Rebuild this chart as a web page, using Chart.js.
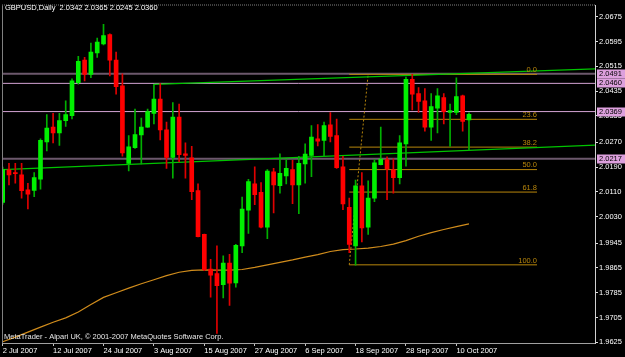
<!DOCTYPE html>
<html><head><meta charset="utf-8">
<script src="https://cdn.jsdelivr.net/npm/chart.js@4.4.1/dist/chart.umd.min.js"></script>
<style>html,body{margin:0;padding:0;background:#000;overflow:hidden}#wrap{width:625px;height:357px;position:relative}</style>
</head><body><div id="wrap"><canvas id="c" width="625" height="357"></canvas></div>
<script>
// ---- text ----
const chartTitle = "GBPUSD,Daily  2.0342 2.0365 2.0245 2.0360";
const watermark = "MetaTrader - Alpari UK, \u00A9 2001-2007 MetaQuotes Software Corp.";

// ---- x axis (bar index) ----
const dateTickIndex = [0, 8, 16, 24, 32, 40, 48, 56, 64, 72];
const dateLabels = ["2 Jul 2007","12 Jul 2007","24 Jul 2007","3 Aug 2007","15 Aug 2007","27 Aug 2007","6 Sep 2007","18 Sep 2007","28 Sep 2007","10 Oct 2007"];
const xDomain = [-0.11, 94.0];

// ---- y axis ----
const priceTicks = [2.0675, 2.0595, 2.0515, 2.0435, 2.0355, 2.0270, 2.0190, 2.0110, 2.0030, 1.9945, 1.9865, 1.9785, 1.9705, 1.9625];
const priceDomain = [1.9623, 2.0711];

// ---- daily OHLC, 2 Jul 2007 .. 12 Oct 2007 ----
const opens  = [2.0076,2.0181,2.0170,2.0165,2.0117,2.0115,2.0151,2.0271,2.0319,2.0300,2.0340,2.0356,2.0462,2.0535,2.0489,2.0558,2.0587,2.0617,2.0535,2.0452,2.0202,2.0253,2.0294,2.0319,2.0363,2.0409,2.0310,2.0221,2.0351,2.0233,2.0220,2.0114,1.9973,1.9861,1.9847,1.9811,1.9881,1.9817,1.9936,2.0051,2.0136,2.0109,1.9996,2.0175,2.0130,2.0162,2.0182,2.0133,2.0200,2.0228,2.0281,2.0276,2.0326,2.0292,2.0191,2.0060,1.9936,2.0130,1.9996,2.0090,2.0198,2.0214,2.0181,2.0156,2.0265,2.0473,2.0427,2.0404,2.0319,2.0380,2.0414,2.0366,2.0366,2.0420,2.0342];
const highs  = [2.0190,2.0202,2.0202,2.0202,2.0138,2.0172,2.0281,2.0359,2.0363,2.0363,2.0404,2.0475,2.0547,2.0544,2.0590,2.0606,2.0650,2.0620,2.0561,2.0491,2.0292,2.0377,2.0348,2.0377,2.0457,2.0459,2.0335,2.0398,2.0393,2.0268,2.0257,2.0136,1.9974,1.9893,1.9936,1.9904,1.9909,1.9941,2.0093,2.0151,2.0191,2.0140,2.0182,2.0186,2.0233,2.0214,2.0212,2.0225,2.0265,2.0324,2.0327,2.0335,2.0366,2.0345,2.0225,2.0090,2.0148,2.0172,2.0146,2.0214,2.0319,2.0223,2.0217,2.0292,2.0480,2.0489,2.0446,2.0443,2.0427,2.0443,2.0427,2.0393,2.0478,2.0422,2.0365];
const lows   = [2.0070,2.0133,2.0138,2.0090,2.0055,2.0095,2.0119,2.0242,2.0268,2.0260,2.0321,2.0345,2.0457,2.0468,2.0478,2.0544,2.0584,2.0484,2.0425,2.0225,2.0178,2.0250,2.0200,2.0318,2.0329,2.0278,2.0186,2.0154,2.0207,2.0154,2.0085,1.9965,1.9856,1.9771,1.9654,1.9768,1.9744,1.9803,1.9914,1.9976,2.0069,1.9994,1.9959,2.0042,2.0106,2.0136,2.0072,2.0040,2.0138,2.0159,2.0258,2.0225,2.0271,2.0186,2.0053,1.9914,1.9874,1.9949,1.9973,2.0079,2.0197,2.0085,2.0106,2.0136,2.0193,2.0374,2.0366,2.0306,2.0276,2.0300,2.0329,2.0257,2.0359,2.0306,2.0245];
const closes = [2.0182,2.0165,2.0169,2.0114,2.0103,2.0156,2.0276,2.0316,2.0300,2.0340,2.0359,2.0468,2.0531,2.0489,2.0561,2.0593,2.0614,2.0535,2.0449,2.0236,2.0255,2.0295,2.0319,2.0369,2.0409,2.0310,2.0221,2.0351,2.0230,2.0228,2.0111,1.9966,1.9859,1.9842,1.9808,1.9881,1.9816,1.9938,2.0055,2.0143,2.0101,1.9996,2.0177,2.0133,2.0170,2.0186,2.0133,2.0202,2.0232,2.0287,2.0274,2.0324,2.0289,2.0188,2.0071,1.9941,2.0130,1.9994,2.0090,2.0204,2.0216,2.0184,2.0156,2.0268,2.0473,2.0425,2.0402,2.0319,2.0385,2.0420,2.0369,2.0372,2.0417,2.0337,2.0360];

// ---- moving average (read every 2nd bar) ----
const maIndex  = [0,2,4,6,8,10,12,14,16,18,20,22,24,26,28,30,32,34,36,38,40,42,44,46,48,50,52,54,56,58,60,62,64,66,68,70,72,74];
const maValues = [1.9627,1.9642,1.9658,1.9674,1.9690,1.9704,1.9723,1.9747,1.9770,1.9785,1.9800,1.9814,1.9827,1.9840,1.9851,1.9857,1.9859,1.9858,1.9858,1.9860,1.9867,1.9875,1.9883,1.9891,1.9900,1.9908,1.9918,1.9924,1.9926,1.9929,1.9934,1.9942,1.9953,1.9967,1.9979,1.9989,1.9998,2.0007];

// ---- horizontal lines ----
const hLineLevels = [2.0491, 2.0460, 2.0369, 2.0217];
const hLineHeavy  = [true, false, false, true];

// ---- trendlines: [startIndex, startPrice, endIndex, endPrice] ----
const upperTrend = [24, 2.0457, 94.0, 2.0507];
const lowerTrend = [0, 2.0182, 94.0, 2.0261];

// ---- fibonacci retracement ----
const fiboHigh = 2.0489, fiboLow = 1.9875;
const fiboRatios = [0, 0.236, 0.382, 0.5, 0.618, 1.0];
const fiboNames = ["0.0", "23.6", "38.2", "50.0", "61.8", "100.0"];
const fiboSpan = [55, 84.8];
const fiboAnchor = [55, 58];

// ---- colours ----
const C_UP = '#00f000', C_DN = '#ff0000', C_WUP = '#00b000', C_WDN = '#e00000';
const C_MA = '#d08c1c', C_FIB = '#b8860b', C_TREND = '#00c400';
const C_HL_LIGHT = '#d4a4d4', C_HL_HEAVY = '#6c586c', C_BOX = '#dda0dd';
const FONT = 'Liberation Sans';

const idx = opens.map((_, i) => i);
const isUp = idx.map(i => closes[i] >= opens[i]);
const fiboLevels = fiboRatios.map(r => fiboHigh - r * (fiboHigh - fiboLow));

const lineDs = (pts, color, width, order, dash) => ({
  type: 'line', data: pts, borderColor: color, borderWidth: width, pointRadius: 0,
  tension: 0, fill: false, order: order, borderDash: dash || [], spanGaps: true
});

const datasets = [];
datasets.push({ type: 'bar', data: idx.map(i => ({x: i, y: [lows[i], highs[i]]})),
  backgroundColor: idx.map(i => isUp[i] ? C_WUP : C_WDN), barThickness: 1, grouped: false, minBarLength: 1, order: 1 });
datasets.push({ type: 'bar', data: idx.map(i => ({x: i, y: [opens[i], closes[i]]})),
  backgroundColor: idx.map(i => isUp[i] ? C_UP : C_DN), barThickness: 4, grouped: false, minBarLength: 1, order: 0 });
datasets.push(lineDs(maIndex.map((x, k) => ({x, y: maValues[k]})), C_MA, 1.2, 5));
hLineLevels.forEach((lv, k) => datasets.push(lineDs([{x: xDomain[0], y: lv}, {x: xDomain[1], y: lv}],
  hLineHeavy[k] ? C_HL_HEAVY : C_HL_LIGHT, hLineHeavy[k] ? 2 : 1, 4)));
datasets.push(lineDs([{x: upperTrend[0], y: upperTrend[1]}, {x: upperTrend[2], y: upperTrend[3]}], C_TREND, 1.3, 3));
datasets.push(lineDs([{x: lowerTrend[0], y: lowerTrend[1]}, {x: lowerTrend[2], y: lowerTrend[3]}], C_TREND, 1.3, 3));
fiboLevels.forEach(lv => datasets.push(lineDs([{x: fiboSpan[0], y: lv}, {x: fiboSpan[1], y: lv}], C_FIB, 1, 3)));
datasets.push(lineDs([{x: fiboAnchor[0], y: fiboLow}, {x: fiboAnchor[1], y: fiboHigh}], C_FIB, 1, 3, [2, 2]));

const overlay = {
  id: 'overlay',
  beforeDraw(chart) {
    const c = chart.ctx; c.save(); c.fillStyle = '#000'; c.fillRect(0, 0, chart.width, chart.height); c.restore();
  },
  afterDatasetsDraw(chart) {
    const c = chart.ctx, xs = chart.scales.x, ys = chart.scales.y;
    c.save();
    c.font = '7.5px "' + FONT + '"'; c.fillStyle = C_FIB; c.textAlign = 'right'; c.textBaseline = 'bottom';
    fiboLevels.forEach((lv, k) => c.fillText(fiboNames[k], xs.getPixelForValue(fiboSpan[1]), ys.getPixelForValue(lv) - 0.5));
    c.restore();
  },
  afterDraw(chart) {
    const c = chart.ctx, a = chart.chartArea, ys = chart.scales.y;
    c.save();
    c.strokeStyle = '#808080'; c.lineWidth = 1;
    c.beginPath(); c.moveTo(a.left + 0.5, a.top); c.lineTo(a.left + 0.5, a.bottom); c.stroke();
    c.setLineDash([1, 1]); c.beginPath(); c.moveTo(a.left, a.top - 0.5); c.lineTo(a.right, a.top - 0.5); c.stroke();
    c.setLineDash([]);
    c.font = '7.5px "' + FONT + '"'; c.textBaseline = 'middle'; c.textAlign = 'left';
    c.fillStyle = '#ffffff'; c.fillText(chartTitle, 5, 8);
    c.fillStyle = '#e8e8e8'; c.fillText(watermark, 4, 337);
    hLineLevels.forEach(lv => {
      const y = ys.getPixelForValue(lv);
      c.fillStyle = C_BOX; c.fillRect(a.right + 2, Math.round(y) - 4.5, 29, 9);
      c.fillStyle = '#000'; c.fillText(lv.toFixed(4), a.right + 4, Math.round(y));
    });
    c.restore();
  }
};

new Chart(document.getElementById('c'), {
  type: 'bar',
  data: { datasets },
  plugins: [overlay],
  options: {
    responsive: false, animation: false, devicePixelRatio: 1, events: [],
    layout: { padding: { left: 2, top: 2, right: 0, bottom: 0 } },
    plugins: { legend: { display: false }, tooltip: { enabled: false }, title: { display: false } },
    scales: {
      x: {
        type: 'linear', min: xDomain[0], max: xDomain[1], offset: false, position: 'bottom',
        afterBuildTicks: ax => { ax.ticks = dateTickIndex.map(v => ({value: v})); },
        afterFit: ax => { ax.height = 14; },
        ticks: { autoSkip: false, maxRotation: 0, minRotation: 0, align: 'start', padding: 0, color: '#ffffff',
          font: { family: FONT, size: 7.5 },
          callback: v => { const k = dateTickIndex.indexOf(v); return k >= 0 ? dateLabels[k] : ''; } },
        grid: { display: true, drawOnChartArea: false, drawTicks: true, tickLength: 3, color: '#c0c0c0', offset: false },
        border: { display: true, color: '#a0a0a0' }
      },
      y: {
        type: 'linear', position: 'right', min: priceDomain[0], max: priceDomain[1], beginAtZero: false,
        afterBuildTicks: ax => { ax.ticks = priceTicks.map(v => ({value: v})); },
        afterFit: ax => { ax.width = 30; },
        ticks: { color: '#ffffff', padding: 1, font: { family: FONT, size: 7.5 }, callback: v => Number(v).toFixed(4) },
        grid: { display: true, drawOnChartArea: false, drawTicks: true, tickLength: 3, color: '#e0e0e0' },
        border: { display: true, color: '#d0d0d0' }
      }
    }
  }
});
</script>
</body></html>
